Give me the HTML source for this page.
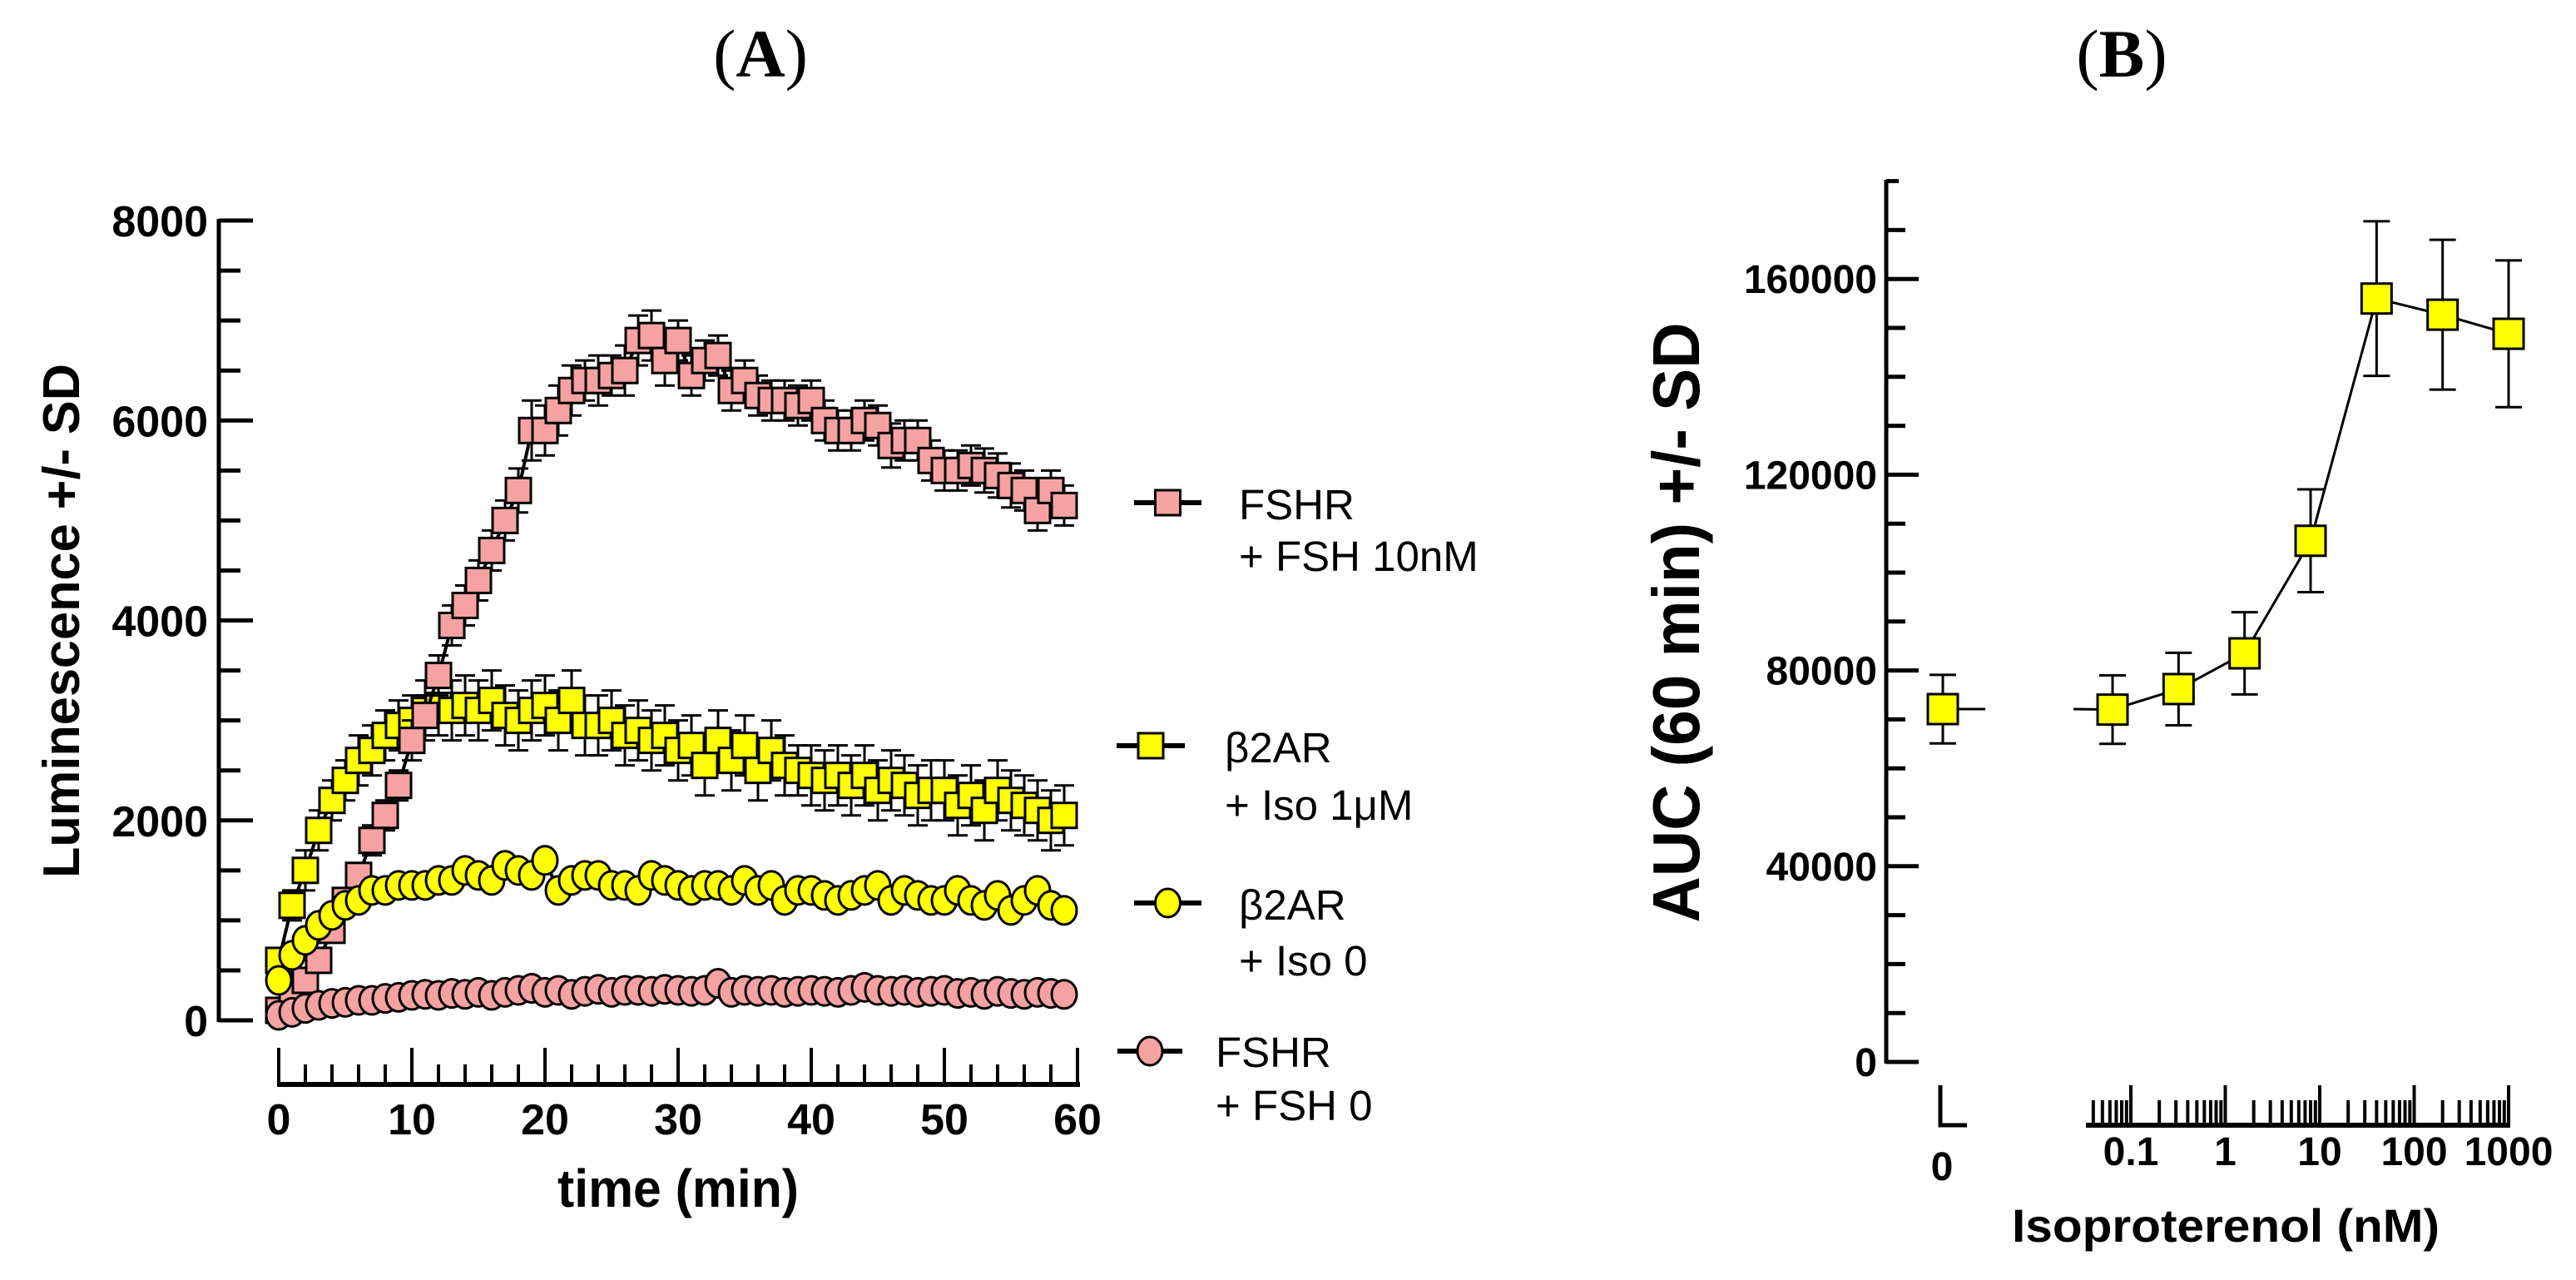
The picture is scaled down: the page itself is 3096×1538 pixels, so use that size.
<!DOCTYPE html>
<html><head><meta charset="utf-8"><style>
html,body{margin:0;padding:0;background:#fff;}
svg{display:block;}
text{font-family:"Liberation Sans",sans-serif;}
</style></head><body>
<svg id="fig" width="3096" height="1538" viewBox="0 0 3096 1538" xmlns="http://www.w3.org/2000/svg">
<text x="914" y="92" text-anchor="middle" style="font-family:'Liberation Serif',serif;font-size:82px;">(<tspan font-weight="bold">A</tspan>)</text>
<text x="2550" y="92" text-anchor="middle" style="font-family:'Liberation Serif',serif;font-size:82px;">(<tspan font-weight="bold">B</tspan>)</text>
<text transform="translate(95,746) rotate(-90)" text-anchor="middle" font-weight="bold" font-size="62" textLength="618" lengthAdjust="spacingAndGlyphs">Luminescence +/- SD</text>
<text x="815" y="1450" text-anchor="middle" font-weight="bold" font-size="64" textLength="290" lengthAdjust="spacingAndGlyphs">time (min)</text>
<text transform="translate(2042,748) rotate(-90)" text-anchor="middle" font-weight="bold" font-size="80" textLength="721" lengthAdjust="spacingAndGlyphs">AUC (60 min) +/- SD</text>
<text x="2675" y="1492" text-anchor="middle" font-weight="bold" font-size="56" textLength="514" lengthAdjust="spacingAndGlyphs">Isoproterenol (nM)</text>
<g id="gA"></g><g id="gB"></g><g id="gL"></g>
</svg>
<script>
const NS='http://www.w3.org/2000/svg';
const timesA=[0,1,2,3,4,5,6,7,8,9,10,11,12,13,14,15,16,17,18,19,20,21,22,23,24,25,26,27,28,29,30,31,32,33,34,35,36,37,38,39,40,41,42,43,44,45,46,47,48,49,50,51,52,53,54,55,56,57,58,59];
const fshr10=[100,250,400,600,900,1200,1450,1800,2050,2350,2800,3050,3450,3950,4150,4400,4700,5000,5300,5900,5900,6100,6300,6400,6400,6450,6500,6800,6850,6600,6800,6450,6600,6650,6300,6400,6250,6200,6200,6150,6200,6000,5900,5900,6000,5950,5750,5800,5800,5600,5500,5500,5550,5500,5450,5350,5300,5100,5300,5150];
const fshr10SD=[50,60,80,90,100,100,120,150,150,150,200,200,200,200,200,200,200,200,220,300,250,250,250,200,250,200,250,250,250,250,200,200,200,200,200,200,200,200,200,200,200,200,200,200,200,200,220,200,200,200,200,200,200,220,220,220,200,200,200,200];
const b2iso1=[600,1150,1500,1900,2200,2400,2600,2700,2850,2950,3000,3100,3150,3100,3150,3100,3200,3050,3000,3100,3150,3000,3200,2950,2950,3000,2850,2900,2800,2850,2700,2750,2550,2800,2600,2750,2500,2700,2550,2500,2450,2400,2450,2350,2450,2300,2400,2350,2250,2300,2300,2150,2250,2100,2300,2200,2150,2100,2000,2050];
const b2iso1SD=[100,150,200,200,200,200,250,250,250,250,250,300,300,300,300,300,300,300,300,300,300,300,300,300,300,300,300,300,300,300,300,300,300,300,300,300,300,300,300,250,300,300,300,300,300,300,300,300,300,300,300,300,300,300,300,300,300,300,300,300];
const b2iso0=[400,650,800,950,1050,1150,1200,1300,1300,1350,1350,1350,1400,1400,1500,1450,1400,1550,1500,1450,1600,1300,1400,1450,1450,1350,1350,1300,1450,1400,1350,1300,1350,1350,1300,1400,1300,1350,1200,1300,1300,1250,1200,1250,1300,1350,1200,1300,1250,1200,1200,1300,1200,1150,1250,1100,1200,1300,1150,1100];
const fshr0=[50,80,120,150,170,180,200,200,220,230,250,260,250,270,260,280,250,280,300,320,280,300,260,290,310,280,300,300,290,310,300,290,300,370,280,300,290,300,280,290,300,290,280,300,330,300,290,300,280,290,300,270,280,260,290,270,260,280,270,260];
const yTicksA=[0,2000,4000,6000,8000];
const xTicksA=[0,10,20,30,40,50,60];
const dosesB=[0.064,0.32,1.6,8,40,200,1000];
const aucB=[72000,76200,83500,106500,156000,152700,148800];
const aucSD=[7000,7400,8400,10500,15800,15300,15000];
const zeroAuc=[72100];
const zeroSD=[7000];
const yTicksB=[0,40000,80000,120000,160000];
const xTicksB=[0.1,1,10,100,1000];
const xTickLabelsB=['0.1','1','10','100','1000'];

const xA=t=>335+t*16;
const yA=v=>1226-v*(961/8000);
const yB=v=>1276-v*(235.2/40000);
const xB=d=>2561+(Math.log10(d)+1)*113.5;
const PINK='#F6A2A2',YEL='#FFFF00';
function mk(tag,attrs,parent){const e=document.createElementNS(NS,tag);for(const k in attrs)e.setAttribute(k,attrs[k]);parent.appendChild(e);return e;}
const gA=document.getElementById('gA'),gB=document.getElementById('gB'),gL=document.getElementById('gL');

// Panel A axes
let e=mk('line',{x1:263,y1:263,x2:263,y2:1228,stroke:'#000','stroke-width':5},gA);


for(let v=0;v<=8000;v+=500){const maj=v%2000===0;e=mk('line',{x1:263,y1:yA(v),x2:maj?304:289,y2:yA(v),stroke:'#000','stroke-width':5},gA);

}
yTicksA.forEach(v=>{e=mk('text',{x:250,y:yA(v)+19,'text-anchor':'end','font-size':52,'font-weight':'bold'},gA);e.textContent=v;

});
e=mk('line',{x1:333,y1:1303,x2:1298,y2:1303,stroke:'#000','stroke-width':6},gA);


for(let t=0;t<=60;t+=2){const maj=t%10===0;e=mk('line',{x1:xA(t),y1:maj?1259:1279,x2:xA(t),y2:1303,stroke:'#000','stroke-width':4},gA);

}
xTicksA.forEach(t=>{e=mk('text',{x:xA(t),y:1363,'text-anchor':'middle','font-size':52,'font-weight':'bold'},gA);e.textContent=t;

});

function series(vals,sds,fill,shape,name,lw){
  const g=mk('g',{},gA);
  
  
  const pts=timesA.map((t,i)=>xA(t)+','+yA(vals[i])).join(' ');
  mk('polyline',{points:pts,fill:'none',stroke:'#000','stroke-width':lw},g);
  if(sds)timesA.forEach((t,i)=>{const x=xA(t),y1=yA(vals[i]+sds[i]),y2=yA(vals[i]-sds[i]);
    mk('path',{d:`M${x},${y1}V${y2}M${x-12},${y1}H${x+12}M${x-12},${y2}H${x+12}`,stroke:'#000','stroke-width':3,fill:'none'},g);});
  timesA.forEach((t,i)=>{const x=xA(t),y=yA(vals[i]);let m;
    if(shape==='sq')m=mk('rect',{x:x-15,y:y-15,width:30,height:30,fill:fill,stroke:'#000','stroke-width':3},g);
    else m=mk('ellipse',{cx:x,cy:y,rx:15,ry:17,fill:fill,stroke:'#000','stroke-width':3},g);
    
    });
}
series(b2iso1,b2iso1SD,YEL,'sq','series-b2ar-iso-1um',4);
series(fshr10,fshr10SD,PINK,'sq','series-fshr-fsh-10nm',4);
series(b2iso0,null,YEL,'ci','series-b2ar-iso-0',4);
series(fshr0,null,PINK,'ci','series-fshr-fsh-0',4);

// Legend
const legY=[604,896,1085,1263];
const legX1=[1363,1342,1363,1343],legX2=[1444,1424,1444,1421];
const legFill=[PINK,YEL,YEL,PINK],legShape=['sq','sq','ci','ci'];
const legT1=['FSHR','β2AR','β2AR','FSHR'],legT2=['+ FSH 10nM','+ Iso 1μM','+ Iso 0','+ FSH 0'];
const legTx=[1489,1472,1489,1461],legB1=[624,916,1105,1282],legB2=[686,985,1172,1346];
const legNames=['legend-fshr-fsh-10nm','legend-b2ar-iso-1um','legend-b2ar-iso-0','legend-fshr-fsh-0'];
legY.forEach((y,i)=>{const g=mk('g',{},gL);
  
  
  mk('line',{x1:legX1[i],y1:y,x2:legX2[i],y2:y,stroke:'#000','stroke-width':6},g);
  const cx=(legX1[i]+legX2[i])/2;
  if(legShape[i]==='sq')mk('rect',{x:cx-15,y:y-15,width:30,height:30,fill:legFill[i],stroke:'#000','stroke-width':3},g);
  else mk('ellipse',{cx:cx,cy:y,rx:15,ry:17,fill:legFill[i],stroke:'#000','stroke-width':3},g);
  let t=mk('text',{x:legTx[i],y:legB1[i],'font-size':51},g);t.textContent=legT1[i];
  t=mk('text',{x:legTx[i],y:legB2[i],'font-size':51},g);t.textContent=legT2[i];
});

// Panel B axes
e=mk('line',{x1:2267,y1:216,x2:2267,y2:1278,stroke:'#000','stroke-width':5},gB);


for(let v=0;v<=180000;v+=10000){const maj=v%40000===0||v===180000;e=mk('line',{x1:2267,y1:yB(v),x2:maj?(v===180000?2282:2306):2290,y2:yB(v),stroke:'#000','stroke-width':5},gB);

}
yTicksB.forEach(v=>{e=mk('text',{x:2256,y:yB(v)+17,'text-anchor':'end','font-size':48,'font-weight':'bold'},gB);e.textContent=v;

});
e=mk('path',{d:'M2332,1304V1352H2364',stroke:'#000','stroke-width':5,fill:'none'},gB);


e=mk('text',{x:2334,y:1418,'text-anchor':'middle','font-size':48,'font-weight':'bold'},gB);e.textContent='0';


e=mk('line',{x1:2507,y1:1352,x2:3017,y2:1352,stroke:'#000','stroke-width':6},gB);


for(let p=-2;p<=3;p++){for(let k=1;k<=9;k++){const d=k*Math.pow(10,p);const x=xB(d);if(x<2506||x>3018)continue;
  e=mk('line',{x1:x,y1:k===1?1304:1322,x2:x,y2:1352,stroke:'#000','stroke-width':4},gB);
  
  }}
xTicksB.forEach((d,i)=>{e=mk('text',{x:xB(d),y:1400,'text-anchor':'middle','font-size':48,'font-weight':'bold'},gB);e.textContent=xTickLabelsB[i];

});

// Panel B data
const xZero=2335;
const gS=mk('g',{},gB);


mk('line',{x1:xZero,y1:yB(zeroAuc[0]),x2:2386,y2:yB(zeroAuc[0]),stroke:'#000','stroke-width':3},gS);
mk('line',{x1:2492,y1:yB(zeroAuc[0]),x2:xB(dosesB[0]),y2:yB(aucB[0]),stroke:'#000','stroke-width':3},gS);
mk('polyline',{points:dosesB.map((d,i)=>xB(d)+','+yB(aucB[i])).join(' '),fill:'none',stroke:'#000','stroke-width':3},gS);
function ptB(x,v,sd){const y1=yB(v+sd),y2=yB(v-sd);
  mk('path',{d:`M${x},${y1}V${y2}M${x-16},${y1}H${x+16}M${x-16},${y2}H${x+16}`,stroke:'#000','stroke-width':3,fill:'none'},gS);
  const r=mk('rect',{x:x-18,y:yB(v)-18,width:36,height:36,fill:YEL,stroke:'#000','stroke-width':3},gS);
  
  }
ptB(xZero,zeroAuc[0],zeroSD[0]);
dosesB.forEach((d,i)=>ptB(xB(d),aucB[i],aucSD[i]));
</script>
</body></html>
